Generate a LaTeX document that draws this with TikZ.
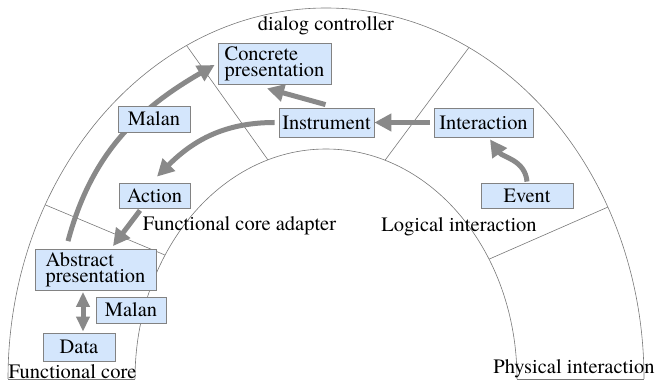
\documentclass[tikz,border=0pt]{standalone}
\usepackage{fontspec}
\IfFontExistsTF{texgyretermes-regular.otf}
  {\setmainfont{texgyretermes-regular.otf}}
  {\IfFontExistsTF{TeX Gyre Termes}
    {\setmainfont{TeX Gyre Termes}}
    {\setmainfont{Liberation Serif}}}
\usetikzlibrary{arrows.meta,calc}
\definecolor{boxblue}{RGB}{212,230,252}
\definecolor{boxline}{RGB}{130,130,130}
\definecolor{arrowgray}{RGB}{137,137,137}
\definecolor{ringline}{RGB}{120,120,120}
\pgfdeclarelayer{ringlayer}
\pgfdeclarelayer{arrowlayer}
\pgfsetlayers{ringlayer,arrowlayer,main}
\tikzset{
  boxnode/.style={draw=boxline, fill=boxblue, line width=0.8pt, inner sep=0pt,
    align=left, font=\fontsize{20.4}{16.2}\selectfont},
  zonelabel/.style={inner sep=0pt, font=\fontsize{20.5}{16.5}\selectfont},
  ring/.style={draw=ringline, line width=0.6pt},
  flow/.style={draw=arrowgray, line width=5pt, -{Triangle[length=17pt,width=17pt]}},
  flowboth/.style={draw=arrowgray, line width=5pt,
    {Triangle[length=15pt,width=13pt]}-{Triangle[length=15pt,width=13pt]}},
}
\begin{document}
\begin{tikzpicture}[x=1pt,y=1pt]
\useasboundingbox (0,0) rectangle (657,383);

% boxes
\node[boxnode, minimum width=113pt, minimum height=41pt] (concrete) at (274.5,319.5) {Concrete\\presentation};
\node[boxnode, minimum width=95pt, minimum height=29pt] (instrument) at (326.5,260.5) {Instrument};
\node[boxnode, minimum width=99pt, minimum height=29pt] (interaction) at (483.5,260.5) {Interaction};
\node[boxnode, minimum width=92pt, minimum height=25pt] (event) at (527,187.5) {Event};
\node[boxnode, minimum width=72pt, minimum height=26pt] (malanA) at (154,264) {Malan};
\node[boxnode, minimum width=71pt, minimum height=25pt] (action) at (154.5,187.5) {Action};
\node[boxnode, minimum width=121pt, minimum height=41pt] (abstract) at (95.5,113) {Abstract\\presentation};
\node[boxnode, minimum width=70pt, minimum height=26pt] (malanB) at (131,73) {Malan};
\node[boxnode, minimum width=72pt, minimum height=28pt] (data) at (79,36) {Data};

% zone labels
\node[zonelabel] (lblDialog) at (326,357.5) {dialog controller};
\node[zonelabel] (lblAdapter) at (239.5,157.5) {Functional core adapter};
\node[zonelabel] (lblLogical) at (459,156.5) {Logical interaction};
\node[zonelabel] (lblCore) at (72.5,11.5) {Functional core};
\node[zonelabel] (lblPhysical) at (574,14.5) {Physical interaction};

% rings
\begin{pgfonlayer}{ringlayer}
  \draw[ring] (8,4) arc[start angle=180,end angle=0,x radius=318,y radius=371];
  \draw[ring] (135,4) arc[start angle=180,end angle=0,x radius=191,y radius=230];
  \draw[ring] (8,4) -- (135,4);
  \draw[ring] (517,4) -- (644,4);
  \begin{scope}[shift={(326,4)}]
    \draw[ring] (116:318 and 371) -- (107.7:191 and 230);
    \draw[ring] (63.3:318 and 371) -- (72:191 and 230);
    \draw[ring] (152:318 and 371) -- (147.4:191 and 230);
    \draw[ring] (27.6:318 and 371) -- (31.4:191 and 230);
  \end{scope}
\end{pgfonlayer}

% arrows
\begin{pgfonlayer}{arrowlayer}
  \draw[flow] ([xshift=-4pt]interaction.west) -- (instrument.east);
  \draw[flow] ([yshift=1pt]event.north) to[out=95,in=-55] ([shift={(6.5,-2)}]interaction.south);
  \draw[flow] ([shift={(-1,3)}]instrument.north) -- ([shift={(-7.5,-4)}]concrete.south);
  \draw[flow] ([xshift=-4pt]instrument.west) to[out=180,in=45] ([shift={(2.5,6)}]action.north);
  \draw[flow] ([shift={(-14.5,-2)}]action.south) -- ([shift={(17.5,3)}]abstract.north);
  \draw[flow] ([shift={(-27.5,8)}]abstract.north) to[out=75,in=210] ([shift={(-3,-1.5)}]concrete.west);
  \draw[flowboth] ([shift={(-12.5,-1)}]abstract.south) -- ([shift={(4,1)}]data.north);
\end{pgfonlayer}
\end{tikzpicture}
\end{document}
